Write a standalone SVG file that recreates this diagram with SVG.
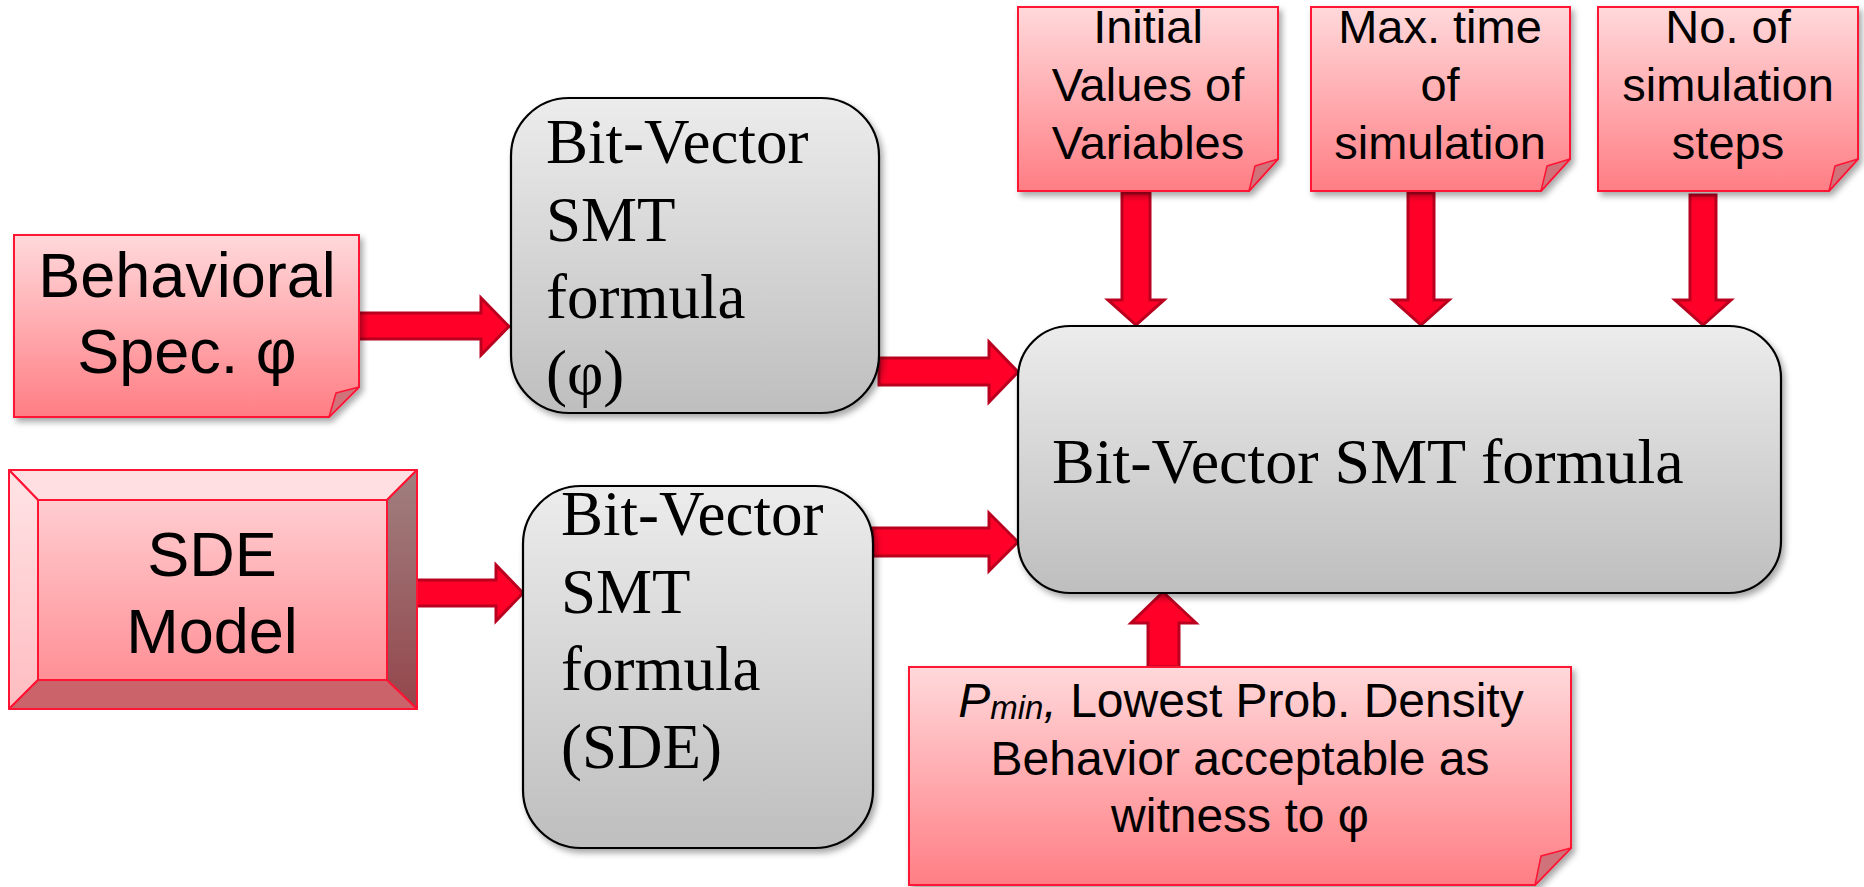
<svg xmlns="http://www.w3.org/2000/svg" width="1864" height="887" viewBox="0 0 1864 887">
  <defs>
    <linearGradient id="noteFill" x1="0" y1="0" x2="0" y2="1">
      <stop offset="0" stop-color="#FFD9DB"/>
      <stop offset="1" stop-color="#FF7E84"/>
    </linearGradient>
    <linearGradient id="grayFill" x1="0" y1="0" x2="0" y2="1">
      <stop offset="0" stop-color="#ECECEC"/>
      <stop offset="1" stop-color="#BEBEBE"/>
    </linearGradient>
    <linearGradient id="bevelFace" x1="0" y1="0" x2="0" y2="1">
      <stop offset="0" stop-color="#FFCDD0"/>
      <stop offset="1" stop-color="#FF9096"/>
    </linearGradient>
    <linearGradient id="bevelLeft" x1="0" y1="0" x2="0" y2="1">
      <stop offset="0" stop-color="#FFE4E6"/>
      <stop offset="1" stop-color="#FFBCC0"/>
    </linearGradient>
    <linearGradient id="bevelRight" x1="0" y1="0" x2="0" y2="1">
      <stop offset="0" stop-color="#A08080"/>
      <stop offset="1" stop-color="#94464C"/>
    </linearGradient>
    <filter id="shadow" x="-10%" y="-10%" width="125%" height="130%">
      <feDropShadow dx="3" dy="4" stdDeviation="3" flood-color="#000" flood-opacity="0.35"/>
    </filter>
    <style>
      .note { fill: url(#noteFill); stroke: #FF1434; stroke-width: 2; }
      .fold { fill: #D0727A; stroke: #FF1434; stroke-width: 1.5; stroke-linejoin: round; }
      .gray { fill: url(#grayFill); stroke: #000; stroke-width: 2.2; }
      .bev  { stroke: #FF1434; stroke-width: 2; stroke-linejoin: round; }
      .arrow { fill: #FF0028; stroke: #BA001E; stroke-width: 3; stroke-linejoin: miter; }
      .sans { font-family: "Liberation Sans", Arial, sans-serif; fill: #000; }
      .serif { font-family: "Liberation Serif", "Times New Roman", serif; fill: #000; }
      .big { font-size: 63px; }
      .param { font-size: 47px; }
      .prob { font-size: 48px; }
    </style>
  </defs>

  <rect width="1864" height="887" fill="#FFFFFF"/>

  <!-- connectors: block arrows -->
  <g id="connectors">
    <polygon class="arrow" points="357,313 481,313 481,298 509,326.5 481,355 481,339 357,339"/>
    <polygon class="arrow" points="415,580 496,580 496,565 523,593 496,621 496,606 415,606"/>
    <polygon class="arrow" points="879,358 989,358 989,342 1018,372 989,402 989,385 879,385"/>
    <polygon class="arrow" points="873,528 989,528 989,513 1018,542 989,571 989,556 873,556"/>
    <polygon class="arrow" points="1122,193 1150,193 1150,300 1164,300 1136,325 1108,300 1122,300"/>
    <polygon class="arrow" points="1408,193 1434,193 1434,300 1449,300 1421,325 1393,300 1408,300"/>
    <polygon class="arrow" points="1690,195 1716,195 1716,300 1731,300 1703,325 1675,300 1690,300"/>
    <polygon class="arrow" points="1148,667 1179,667 1179,623 1196,623 1163,592 1131,623 1148,623"/>
  </g>

  <!-- behavioral specification note -->
  <g id="spec">
    <path class="note" filter="url(#shadow)" d="M14,235 H359 V387 L329,417 H14 Z"/>
    <polygon class="fold" points="359,387 336,393 329,417"/>
    <text class="sans big" text-anchor="middle" x="187" y="297">Behavioral</text>
    <text class="sans big" text-anchor="middle" x="187" y="373">Spec. φ</text>
  </g>

  <!-- SDE model bevel block -->
  <g id="sde-model">
    <rect x="9" y="470" width="408" height="239" fill="none" filter="url(#shadow)"/>
    <polygon class="bev" fill="#FFDFE1" points="9,470 417,470 387,500 38,500"/>
    <polygon class="bev" fill="url(#bevelLeft)" points="9,470 38,500 38,680 9,709"/>
    <polygon class="bev" fill="url(#bevelRight)" points="417,470 417,709 387,680 387,500"/>
    <polygon class="bev" fill="#CB636A" points="9,709 38,680 387,680 417,709"/>
    <rect class="bev" fill="url(#bevelFace)" x="38" y="500" width="349" height="180"/>
    <text class="sans big" text-anchor="middle" x="212" y="576">SDE</text>
    <text class="sans big" text-anchor="middle" x="212" y="653">Model</text>
  </g>

  <!-- bit-vector formula of the specification -->
  <g id="bv-spec">
    <rect class="gray" filter="url(#shadow)" x="511" y="98" width="368" height="315" rx="58" ry="58"/>
    <text class="serif big" x="546" y="163">Bit-Vector</text>
    <text class="serif big" x="546" y="241">SMT</text>
    <text class="serif big" x="546" y="318">formula</text>
    <text class="serif big" x="546" y="394">(φ)</text>
  </g>

  <!-- bit-vector formula of the SDE -->
  <g id="bv-sde">
    <rect class="gray" filter="url(#shadow)" x="523" y="486" width="350" height="362" rx="58" ry="58"/>
    <text class="serif big" x="561" y="535">Bit-Vector</text>
    <text class="serif big" x="561" y="613">SMT</text>
    <text class="serif big" x="561" y="690">formula</text>
    <text class="serif big" x="561" y="768">(SDE)</text>
  </g>

  <!-- combined formula -->
  <g id="bv-combined">
    <rect class="gray" filter="url(#shadow)" x="1018" y="326" width="763" height="267" rx="52" ry="52"/>
    <text class="serif" font-size="64" x="1052" y="483">Bit-Vector SMT formula</text>
  </g>

  <!-- parameter notes -->
  <g id="initial-values">
    <path class="note" filter="url(#shadow)" d="M1018,7 H1278 V159 L1249,191 H1018 Z"/>
    <polygon class="fold" points="1278,159 1255,166 1249,191"/>
    <text class="sans param" text-anchor="middle" x="1148" y="43">Initial</text>
    <text class="sans param" text-anchor="middle" x="1148" y="101">Values of</text>
    <text class="sans param" text-anchor="middle" x="1148" y="159">Variables</text>
  </g>

  <g id="max-time">
    <path class="note" filter="url(#shadow)" d="M1311,7 H1570 V159 L1541,191 H1311 Z"/>
    <polygon class="fold" points="1570,159 1547,166 1541,191"/>
    <text class="sans param" text-anchor="middle" x="1440" y="43">Max. time</text>
    <text class="sans param" text-anchor="middle" x="1440" y="101">of</text>
    <text class="sans param" text-anchor="middle" x="1440" y="159">simulation</text>
  </g>

  <g id="num-steps">
    <path class="note" filter="url(#shadow)" d="M1598,7 H1858 V159 L1829,191 H1598 Z"/>
    <polygon class="fold" points="1858,159 1835,166 1829,191"/>
    <text class="sans param" text-anchor="middle" x="1728" y="43">No. of</text>
    <text class="sans param" text-anchor="middle" x="1728" y="101">simulation</text>
    <text class="sans param" text-anchor="middle" x="1728" y="159">steps</text>
  </g>

  <g id="pmin">
    <path class="note" filter="url(#shadow)" d="M909,667 H1571 V848 L1535,885 H909 Z"/>
    <polygon class="fold" points="1571,848 1541,856 1535,885"/>
    <text class="sans prob" text-anchor="middle" x="1241" y="717"><tspan font-style="italic">P</tspan><tspan font-style="italic" font-size="33" dy="2">min</tspan><tspan font-style="italic" dy="-2">,</tspan> Lowest Prob. Density</text>
    <text class="sans prob" text-anchor="middle" x="1240" y="775">Behavior acceptable as</text>
    <text class="sans prob" text-anchor="middle" x="1240" y="832">witness to φ</text>
  </g>
</svg>
